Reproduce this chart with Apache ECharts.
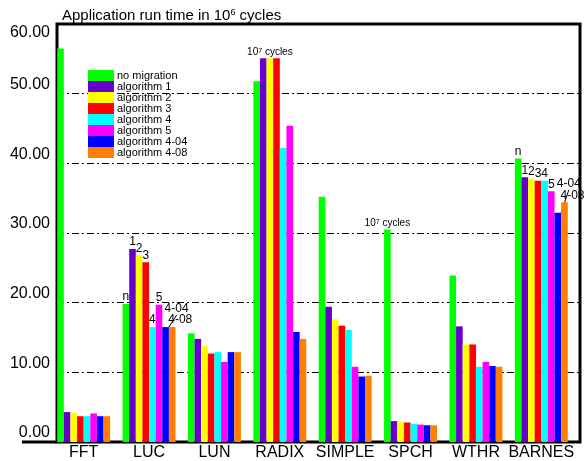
<!DOCTYPE html>
<html>
<head>
<meta charset="utf-8">
<script src="https://cdn.jsdelivr.net/npm/echarts@6/dist/echarts.min.js"></script>
<style>
  html, body { margin: 0; padding: 0; background: #fff; }
  #main { width: 587px; height: 461px; }
</style>
</head>
<body>
<div id="main"></div>
<script>
// run time per application, in 10^6 cycles (RADIX and SPCH in 10^7)
var categories = ['FFT', 'LUC', 'LUN', 'RADIX', 'SIMPLE', 'SPCH', 'WTHR', 'BARNES'];
var seriesNames = ['no migration', 'algorithm 1', 'algorithm 2', 'algorithm 3',
                   'algorithm 4', 'algorithm 5', 'algorithm 4-04', 'algorithm 4-08'];
var noMigration = [56.5, 19.8, 15.6, 51.8, 35.2, 30.5, 23.9, 40.7];
var algorithm1  = [4.3, 27.7, 14.8, 55.1, 19.4, 3.0, 16.6, 38.0];
var algorithm2  = [4.2, 26.8, 13.8, 55.1, 17.6, 2.9, 14.0, 37.8];
var algorithm3  = [3.7, 25.8, 12.7, 55.1, 16.7, 2.8, 14.0, 37.5];
var algorithm4  = [3.7, 16.5, 12.9, 42.2, 16.1, 2.6, 10.8, 37.5];
var algorithm5  = [4.1, 19.7, 11.5, 45.4, 10.8, 2.5, 11.5, 36.0];
var algorithm404 = [3.7, 16.5, 12.9, 15.8, 9.4, 2.4, 10.9, 32.9];
var algorithm408 = [3.7, 16.5, 12.9, 14.8, 9.5, 2.4, 10.8, 34.4];
var yTicks = [0, 10, 20, 30, 40, 50, 60];

// short tags written above the bars of LUC and BARNES
var barTags = ['n', '1', '2', '3', '4', '5', '4-04', '4-08'];
var taggedGroups = [1, 7];
// "10^7 cycles" notes: [category index, series index]
var cycleNotes = [[3, 2], [5, 0]];

var allValues = [noMigration, algorithm1, algorithm2, algorithm3,
                 algorithm4, algorithm5, algorithm404, algorithm408];
var colors = ['#00ff00', '#6600cc', '#ffff00', '#ff0000',
              '#00ffff', '#ff00ff', '#0000ff', '#ff8000'];

var font = 'Liberation Sans';
var supRich = {sup: {fontFamily: font, fontSize: 7, verticalAlign: 'top', color: '#000'}};

function buildData(s) {
    return allValues[s].map(function (v, i) {
        var item = {value: v};
        if (taggedGroups.indexOf(i) >= 0) {
            item.label = {show: true, formatter: barTags[s]};
        }
        cycleNotes.forEach(function (n) {
            if (n[0] === i && n[1] === s) {
                item.label = {show: true, formatter: '10{sup|7} cycles', fontSize: 10,
                              offset: [s === 0 ? 16 : 0, 0], rich: supRich};
            }
        });
        return item;
    });
}

var series = seriesNames.map(function (name, s) {
    return {
        name: name,
        type: 'bar',
        xAxisIndex: 0,
        yAxisIndex: 0,
        barGap: '0%',
        barCategoryGap: '19%',
        itemStyle: {color: colors[s]},
        label: {
            show: false,
            position: 'top',
            distance: 1,
            color: '#000',
            fontFamily: font,
            fontSize: 12
        },
        labelLine: {show: s === 6, length2: 0, lineStyle: {color: '#000', width: 1}},
        labelLayout: function (p) {
            if (p.text === '4-04') {
                return {dx: 11, dy: p.dataIndex === 7 ? -22 : -11};
            }
            if (p.text === '4-08') {
                return {dx: 8, dy: 0};
            }
            return {};
        },
        data: buildData(s)
    };
});

var option = {
    animation: false,
    backgroundColor: '#fff',
    title: {
        text: 'Application run time in 10{sup|6} cycles',
        left: 57,
        top: 3,
        textStyle: {
            fontFamily: font, fontSize: 15, fontWeight: 'normal', color: '#000',
            rich: {sup: {fontFamily: font, fontSize: 9, verticalAlign: 'top', color: '#000'}}
        }
    },
    legend: {
        orient: 'vertical',
        left: 83,
        top: 65,
        itemWidth: 26,
        itemHeight: 11,
        itemGap: 0,
        icon: 'rect',
        data: seriesNames,
        textStyle: {fontFamily: font, fontSize: 11, color: '#000', lineHeight: 11, padding: [0, 0, 0, -2]}
    },
    grid: [
        {left: 51, right: 13, top: 24, bottom: 19},
        {left: 57, right: 7, top: 24, bottom: 19, show: true,
         borderColor: '#000', borderWidth: 3, backgroundColor: 'transparent'}
    ],
    xAxis: [{
        gridIndex: 0,
        type: 'category',
        data: categories,
        axisLine: {show: false},
        axisTick: {show: false},
        axisLabel: {fontFamily: font, fontSize: 16, color: '#000', margin: 3,
                    interval: 0, hideOverlap: false}
    }, {
        gridIndex: 1,
        type: 'value',
        show: false
    }],
    yAxis: [{
        gridIndex: 0,
        type: 'value',
        min: 0,
        max: 60,
        show: false
    }, {
        gridIndex: 1,
        type: 'value',
        min: yTicks[0],
        max: yTicks[yTicks.length - 1],
        interval: 10,
        axisLine: {show: false},
        axisTick: {show: false},
        axisLabel: {
            fontFamily: font,
            fontSize: 16,
            color: '#000',
            margin: 7,
            lineHeight: 18,
            formatter: function (v) {
                var t = v.toFixed(2);
                return v === 60 ? ' \n' + t : t + '\n ';
            }
        },
        splitLine: {
            show: true,
            lineStyle: {color: '#000', width: 1.2, type: [7, 3, 2, 3]}
        }
    }],
    graphic: [{
        type: 'line',
        shape: {x1: 22, y1: 442, x2: 57, y2: 442},
        style: {stroke: '#000', lineWidth: 3}
    }],
    series: series
};

var chart = echarts.init(document.getElementById('main'));
chart.setOption(option);
</script>
</body>
</html>
